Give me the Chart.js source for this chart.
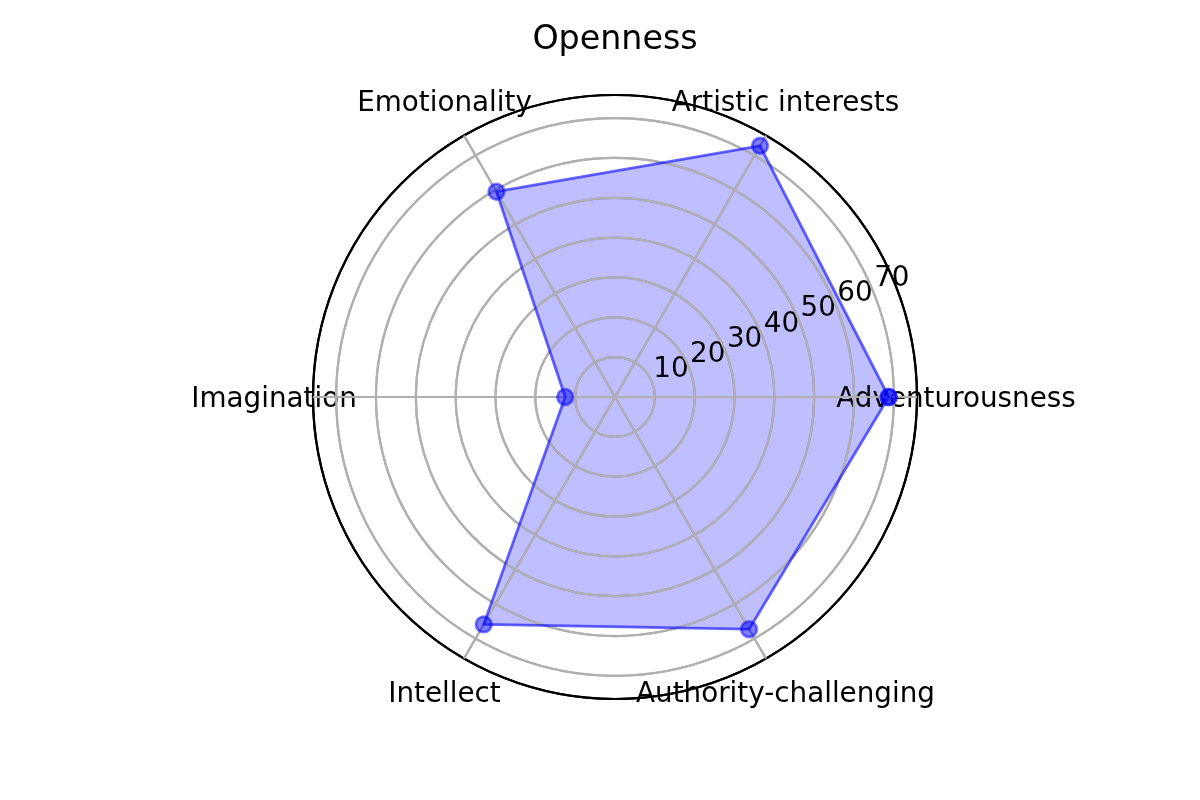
<!DOCTYPE html>
<html>
<head>
<meta charset="utf-8">
<script src="https://cdn.jsdelivr.net/npm/chart.js@4.4.1/dist/chart.umd.min.js"></script>
<style>
  html, body { margin: 0; padding: 0; background: #ffffff; }
  #wrap { width: 1200px; height: 800px; }
</style>
</head>
<body>
<div id="wrap"><canvas id="c" width="1200" height="800"></canvas></div>
<script>
// Categories in clockwise order starting at the right (3 o'clock)
const categories = ['Adventurousness', 'Authority-challenging', 'Intellect', 'Imagination', 'Emotionality', 'Artistic interests'];
const values = [68.7, 67.3, 65.9, 12.5, 59.5, 72.8];
const tickValues = [0, 10, 20, 30, 40, 50, 60, 70];
const tickLabels = ['', '10', '20', '30', '40', '50', '60', '70'];
const rMax = 75.8;
const titleText = 'Openness';

const FONT = "'DejaVu Sans', 'Liberation Sans', sans-serif";

// the repeated closing point of the original polygon (first value again)
const closingValues = values.map((v, i) => (i === 0 ? v : null));

const labelPlugin = {
  id: 'polarDecor',
  afterDatasetDraw(chart, args) {
    if (args.index !== 2) return;
    const scale = chart.scales.r;
    const ctx = chart.ctx;
    ctx.save();
    ctx.fillStyle = '#000000';
    // category labels, centred outside the outer circle
    ctx.font = '27.8px ' + FONT;
    ctx.textAlign = 'center';
    ctx.textBaseline = 'middle';
    categories.forEach((name, i) => {
      const p = scale.getPointPosition(i, scale.drawingArea + 39);
      ctx.fillText(name, p.x, p.y + 2.5);
    });
    // radial tick labels along the 22.5 degree direction
    const ang = 22.5 * Math.PI / 180;
    ctx.textAlign = 'left';
    ctx.textBaseline = 'alphabetic';
    tickValues.forEach((v, i) => {
      if (!tickLabels[i]) return;
      const d = scale.getDistanceFromCenterForValue(v);
      const x = scale.xCenter + d * Math.cos(ang);
      const y = scale.yCenter - d * Math.sin(ang);
      ctx.fillText(tickLabels[i], x + 1.5, y - 4.5);
    });
    ctx.restore();
    // grid drawn over the filled area, under the line and markers
    scale.drawGrid();
  }
};

new Chart(document.getElementById('c'), {
  type: 'radar',
  data: {
    labels: categories,
    datasets: [
      {
        data: values,
        fill: false,
        borderColor: 'rgba(0,0,255,0.6)',
        borderWidth: 2.8,
        borderJoinStyle: 'round',
        pointRadius: 7.8,
        pointBorderWidth: 2.8,
        pointBackgroundColor: 'rgba(0,0,255,0.5)',
        pointBorderColor: 'rgba(0,0,255,0.5)',
        pointHoverRadius: 7.8
      },
      {
        data: closingValues,
        fill: false,
        showLine: false,
        borderWidth: 0,
        pointRadius: 7.8,
        pointBorderWidth: 2.8,
        pointBackgroundColor: 'rgba(0,0,255,0.5)',
        pointBorderColor: 'rgba(0,0,255,0.5)'
      },
      {
        data: values,
        fill: true,
        backgroundColor: 'rgba(0,0,255,0.25)',
        borderWidth: 0,
        borderColor: 'rgba(0,0,0,0)',
        pointRadius: 0
      }
    ]
  },
  options: {
    responsive: false,
    animation: false,
    events: [],
    layout: { padding: { left: 30, right: 0, top: 0, bottom: 100 } },
    plugins: {
      legend: { display: false },
      tooltip: { enabled: false },
      title: {
        display: true,
        text: titleText,
        color: '#000000',
        font: { family: FONT, size: 33.3, weight: 'normal', lineHeight: 1.2 },
        padding: { top: 20, bottom: 35.04 }
      }
    },
    scales: {
      r: {
        min: 0,
        max: rMax,
        startAngle: 90,
        ticks: { display: false, stepSize: 10 },
        afterBuildTicks: (scale) => {
          scale.ticks = tickValues.concat([rMax]).map(v => ({ value: v }));
        },
        pointLabels: { display: false },
        grid: {
          circular: true,
          color: (c) => (c.tick && c.tick.value >= rMax - 1e-6 ? '#000000' : '#b0b0b0'),
          lineWidth: 2.2
        },
        angleLines: { display: true, color: '#b0b0b0', lineWidth: 2.2 }
      }
    }
  },
  plugins: [labelPlugin]
});
</script>
</body>
</html>
